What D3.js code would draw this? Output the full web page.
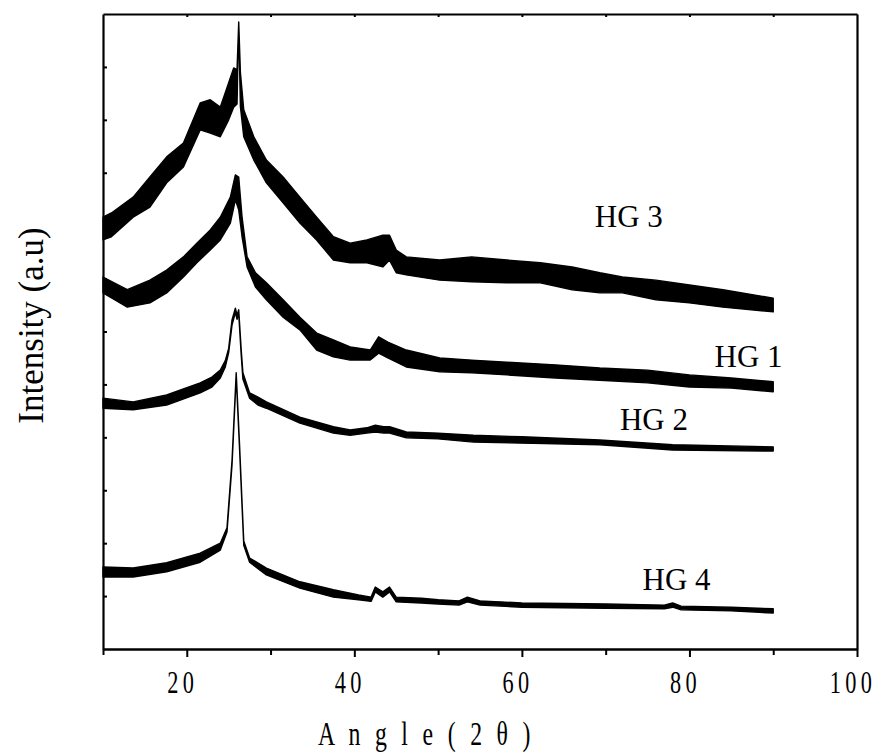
<!DOCTYPE html>
<html>
<head>
<meta charset="utf-8">
<script src="https://cdn.jsdelivr.net/npm/d3@7"></script>
<style>
  body { margin: 0; background: #fff; }
  text { font-family: "Liberation Serif", "Times New Roman", serif; fill: #000; }
</style>
</head>
<body>
<div id="chart"></div>
<script>
// angle (2θ) grid and upper / lower edge of the noise band, arbitrary counts
const hg3Angle = [10, 11, 13.6, 15.6, 17.6, 19.6, 21.6, 22.8, 24, 25, 25.6, 26.0, 26.2, 26.4, 26.8, 28, 29.5, 31.5, 33.5, 35.5, 37.5, 39.5, 41.5, 43.4, 44.2, 45, 46.2, 50.2, 54, 58.2, 62.2, 66, 69.3, 72, 76, 80, 84, 90];
const hg3Hi = [816, 824, 854, 892, 930, 956, 1032, 1038, 1024, 1070, 1098, 1095, 1185, 1090, 1019, 968, 924, 892, 854, 816, 779, 767, 773, 782, 782, 754, 741, 735, 741, 735, 730, 722, 711, 703, 697, 688, 679, 663];
const hg3Lo = [773, 779, 816, 835, 881, 911, 981, 975, 968, 1000, 1024, 1030, 1180, 1025, 968, 924, 881, 843, 805, 773, 735, 730, 730, 722, 735, 711, 707, 697, 694, 692, 692, 679, 673, 673, 660, 654, 646, 637];

const hg1Angle = [10, 12.9, 15.6, 17.6, 19.6, 21.2, 22.8, 24, 25.2, 25.8, 26.2, 26.6, 27.2, 28.2, 29.5, 31.5, 33.5, 35.5, 37.5, 39.5, 41.9, 42.9, 44, 46.2, 50.2, 54, 58.2, 64, 69.3, 75, 80, 85, 90];
const hg1Hi = [703, 679, 697, 716, 741, 767, 792, 816, 854, 896, 892, 816, 741, 711, 692, 660, 627, 597, 584, 571, 565, 590, 580, 565, 550, 546, 542, 537, 531, 527, 518, 512, 505];
const hg1Lo = [673, 646, 654, 673, 703, 730, 754, 773, 805, 849, 830, 779, 722, 684, 660, 627, 603, 565, 552, 546, 546, 559, 550, 533, 524, 522, 518, 512, 508, 503, 495, 493, 486];

const hg2Angle = [10, 13.6, 17.6, 21.6, 23, 24, 24.6, 25, 25.4, 25.8, 26, 26.2, 26.5, 26.7, 27.5, 28.5, 29.5, 33.5, 37.5, 39.5, 41.5, 42.5, 43.5, 44.2, 46.2, 50, 54.2, 60, 69.3, 78, 90];
const hg2Hi = [474, 467, 480, 503, 514, 527, 545, 568, 622, 644, 631, 641, 565, 522, 484, 476, 467, 438, 420, 414, 418, 423, 420, 420, 410, 408, 404, 401, 395, 386, 382];
const hg2Lo = [455, 452, 461, 484, 495, 512, 533, 560, 612, 636, 623, 633, 555, 510, 474, 461, 455, 427, 408, 404, 408, 410, 408, 408, 399, 397, 391, 389, 386, 376, 374];

const hg4Angle = [10, 13.6, 17.6, 21.6, 24, 24.8, 25.4, 25.9, 26.3, 26.8, 27.5, 29.5, 33.5, 37.5, 40.5, 42, 42.5, 43.4, 44.2, 45, 48, 50, 52.5, 53.5, 55, 60, 70, 77, 78, 79, 85, 90];
const hg4Hi = [155, 153, 163, 181, 200, 229, 356, 522, 386, 204, 172, 153, 127, 112, 102, 98, 117, 108, 117, 98, 96, 93, 91, 98, 91, 87, 85, 83, 87, 81, 79, 76];
const hg4Lo = [136, 136, 146, 164, 187, 221, 348, 515, 378, 196, 164, 140, 115, 98, 93, 90, 108, 98, 108, 89, 87, 85, 83, 89, 83, 79, 77, 76, 79, 74, 72, 68];

const seriesNames = ['HG 3', 'HG 1', 'HG 2', 'HG 4'];
// label anchor in data units (angle, intensity)
const labelAngle = [68.7, 83.0, 71.7, 74.4];
const labelValue = [798, 533, 414, 112];

const xMajor = [20, 40, 60, 80, 100];
const xMinor = [10, 30, 50, 70, 90];
const yTicks = d3.range(100, 1200, 100);

const W = 883, H = 755;
const margin = { top: 14, right: 26, bottom: 106, left: 103 };
const width = W - margin.left - margin.right;
const height = H - margin.top - margin.bottom;

const svg = d3.select('#chart').append('svg')
  .attr('width', W)
  .attr('height', H);

const chart = svg.append('g')
  .attr('transform', `translate(${margin.left}, ${margin.top})`);

const x = d3.scaleLinear().domain([10, 100]).range([0, width]);
const y = d3.scaleLinear().domain([0, 1200]).range([height, 0]);

const series = [
  { a: hg3Angle, hi: hg3Hi, lo: hg3Lo },
  { a: hg1Angle, hi: hg1Hi, lo: hg1Lo },
  { a: hg2Angle, hi: hg2Hi, lo: hg2Lo },
  { a: hg4Angle, hi: hg4Hi, lo: hg4Lo }
].map(s => s.a.map((a, i) => ({ a: a, hi: s.hi[i], lo: s.lo[i] })));

const band = d3.area()
  .x(d => x(d.a))
  .y0(d => y(d.lo))
  .y1(d => y(d.hi));

chart.selectAll('.trace')
  .data(series)
  .enter().append('path')
  .attr('class', 'trace')
  .attr('d', band)
  .attr('fill', '#000')
  .attr('stroke', '#000')
  .attr('stroke-width', 1.4)
  .attr('stroke-linejoin', 'round');

// axes
const styleAxis = g => {
  g.selectAll('path.domain').attr('stroke', '#000').attr('stroke-width', 2.2);
  g.selectAll('.tick line').attr('stroke', '#000').attr('stroke-width', 2);
  g.selectAll('.tick text').remove();
};

chart.append('g')
  .attr('transform', `translate(0, ${height})`)
  .call(d3.axisBottom(x).tickValues(xMinor).tickSize(6).tickSizeOuter(0))
  .call(styleAxis);

chart.append('g')
  .attr('transform', `translate(0, ${height})`)
  .call(d3.axisBottom(x).tickValues(xMajor).tickSize(8).tickSizeOuter(0))
  .call(styleAxis);

chart.append('g')
  .call(d3.axisTop(x).tickValues(d3.range(20, 100, 10)).tickSize(-3).tickSizeOuter(0))
  .call(styleAxis);

chart.append('g')
  .call(d3.axisLeft(y).tickValues(yTicks).tickSize(-4).tickSizeOuter(0))
  .call(styleAxis);

chart.append('g')
  .attr('transform', `translate(${width}, 0)`)
  .call(d3.axisRight(y).tickValues([]).tickSizeOuter(0))
  .call(styleAxis);

// tick labels: narrow, spaced digits
chart.selectAll('.xlab')
  .data(xMajor)
  .enter().append('text')
  .attr('class', 'xlab')
  .attr('transform', d => `translate(${x(d) - 4}, ${height + 44}) scale(0.72, 1)`)
  .attr('text-anchor', 'middle')
  .style('font-size', '31px')
  .style('letter-spacing', '6px')
  .text(d => d);

// axis titles
chart.append('text')
  .attr('transform', `translate(${318 - margin.left}, ${height + 96}) scale(0.72, 1)`)
  .style('font-size', '33px')
  .style('letter-spacing', '6px')
  .text('A n g l e  ( 2 θ )');

chart.append('text')
  .attr('transform', 'rotate(-90)')
  .attr('x', -(height / 2) + 6)
  .attr('y', 43 - margin.left)
  .attr('text-anchor', 'middle')
  .style('font-size', '35px')
  .text('Intensity (a.u)');

// series labels
chart.selectAll('.slab')
  .data(seriesNames)
  .enter().append('text')
  .attr('class', 'slab')
  .attr('x', (d, i) => x(labelAngle[i]))
  .attr('y', (d, i) => y(labelValue[i]))
  .style('font-size', '31px')
  .text(d => d);
</script>
</body>
</html>
